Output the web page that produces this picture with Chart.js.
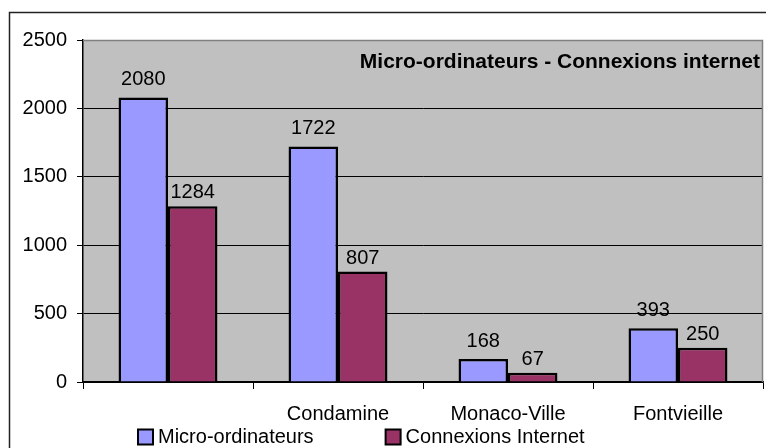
<!DOCTYPE html>
<html><head><meta charset="utf-8">
<style>html,body{margin:0;padding:0;background:#fff;overflow:hidden}#wrap{width:766px;height:448px;position:relative}</style>
<script src="https://cdn.jsdelivr.net/npm/chart.js@4.4.0/dist/chart.umd.min.js"></script>
</head><body><div id="wrap"><canvas id="c" width="766" height="448"></canvas></div>
<script>
const categories = ["", "Condamine", "Monaco-Ville", "Fontvieille"];
const microOrdinateurs = [2080, 1722, 168, 393];
const connexionsInternet = [1284, 807, 67, 250];
const yTicks = [0, 500, 1000, 1500, 2000, 2500];
const seriesNames = ["Micro-ordinateurs", "Connexions Internet"];
const chartTitle = "Micro-ordinateurs - Connexions internet";

const FONT = "'Liberation Sans', Arial, sans-serif";
Chart.defaults.font.family = FONT;
Chart.defaults.font.size = 20;
Chart.defaults.color = '#000';

const framePlugin = {
  id: 'frame',
  beforeDraw(chart) {
    const {ctx, chartArea: a} = chart;
    ctx.save();
    ctx.fillStyle = '#fff';
    ctx.fillRect(0, 0, chart.width, chart.height);
    ctx.strokeStyle = '#222';
    ctx.lineWidth = 1.5;
    ctx.beginPath();
    ctx.moveTo(9.5, chart.height + 5);
    ctx.lineTo(9.5, 12.5);
    ctx.lineTo(chart.width + 5, 12.5);
    ctx.stroke();
    ctx.fillStyle = '#C0C0C0';
    ctx.fillRect(a.left, a.top, a.right - a.left, a.bottom - a.top);
    ctx.restore();
  },
  beforeDatasetsDraw(chart) {
    const {ctx, chartArea: a} = chart;
    ctx.save();
    ctx.strokeStyle = '#808080';
    ctx.lineWidth = 1.5;
    ctx.beginPath();
    ctx.moveTo(a.left, a.top + 0.5);
    ctx.lineTo(a.right - 0.5, a.top + 0.5);
    ctx.lineTo(a.right - 0.5, a.bottom);
    ctx.stroke();
    ctx.restore();
  },
  afterDatasetsDraw(chart) {
    const {ctx, chartArea: a} = chart;
    ctx.save();
    ctx.font = '20px ' + FONT;
    ctx.fillStyle = '#000';
    ctx.textAlign = 'center';
    ctx.textBaseline = 'alphabetic';
    const gaps = [12, 8];
    chart.data.datasets.forEach((ds, di) => {
      const meta = chart.getDatasetMeta(di);
      meta.data.forEach((el, i) => {
        ctx.fillText(String(ds.data[i]), el.x, el.y - gaps[di]);
      });
    });
    ctx.font = 'bold 21px ' + FONT;
    ctx.textAlign = 'right';
    ctx.fillText(chartTitle, a.right - 3, a.top + 28);
    ctx.restore();
  },
  afterDraw(chart) {
    const {ctx} = chart;
    ctx.save();
    ctx.font = '20px ' + FONT;
    ctx.textBaseline = 'middle';
    ctx.textAlign = 'left';
    const box = 15, gapText = 5, gapItem = 72, cy = 437, center = 361;
    const items = chart.data.datasets.map(ds => ({
      text: ds.label, color: ds.backgroundColor, w: ctx.measureText(ds.label).width
    }));
    const total = items.reduce((s, it) => s + box + gapText + it.w, 0) + gapItem * (items.length - 1);
    let x = Math.round(center - total / 2);
    items.forEach(it => {
      ctx.fillStyle = it.color;
      ctx.fillRect(x, cy - box / 2, box, box);
      ctx.strokeStyle = '#000';
      ctx.lineWidth = 2;
      ctx.strokeRect(x, cy - box / 2, box, box);
      ctx.fillStyle = '#000';
      ctx.fillText(it.text, x + box + gapText, cy);
      x += box + gapText + it.w + gapItem;
    });
    ctx.restore();
  }
};

new Chart(document.getElementById('c'), {
  type: 'bar',
  data: {
    labels: categories,
    datasets: [
      { label: seriesNames[0], data: microOrdinateurs, backgroundColor: '#9999FF', borderColor: '#000', borderWidth: 2.5 },
      { label: seriesNames[1], data: connexionsInternet, backgroundColor: '#993366', borderColor: '#000', borderWidth: 2.5 }
    ]
  },
  options: {
    responsive: false,
    animation: false,
    devicePixelRatio: 1,
    layout: { padding: { top: 40, right: 3, left: 0, bottom: 0 } },
    datasets: { bar: { categoryPercentage: 0.582, barPercentage: 1 } },
    plugins: { legend: { display: false }, title: { display: false }, tooltip: { enabled: false } },
    scales: {
      x: {
        grid: { offset: true, drawOnChartArea: false, drawTicks: true, tickLength: 7, color: '#000', lineWidth: 1 },
        border: { color: '#000', width: 1.5 },
        ticks: { padding: 13, autoSkip: false, maxRotation: 0, minRotation: 0, font: { size: 20 } },
        afterFit(s) { s.height = 66; }
      },
      y: {
        min: 0, max: 2500,
        afterBuildTicks(s) { s.ticks = yTicks.map(v => ({ value: v })); },
        grid: { color: '#000', lineWidth: 1, tickLength: 6, tickColor: '#000' },
        border: { color: '#000', width: 1.5 },
        ticks: { padding: 10, font: { size: 20 }, callback: (v) => String(v) },
        afterFit(s) { s.width = 83; }
      }
    }
  },
  plugins: [framePlugin]
});
</script>
</body></html>
